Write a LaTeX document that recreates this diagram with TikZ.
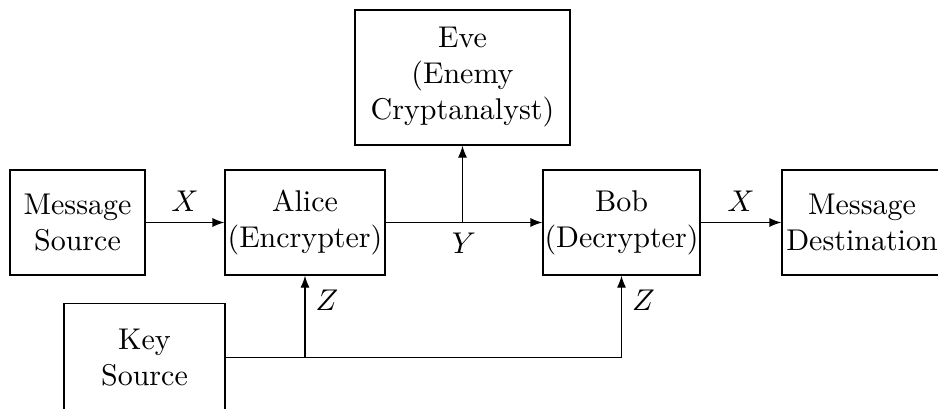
\documentclass[tikz,border=0pt]{standalone}
\usetikzlibrary{arrows.meta}

\begin{document}
\begin{tikzpicture}[x=0.3333pt, y=-0.3333pt,
    block/.style={draw, align=center, minimum height=35pt, inner sep=0pt},
    link/.style={-{Latex[length=4pt,width=3pt]}}]
\useasboundingbox (0,0) rectangle (938,409);

% Boxes
\node[block, minimum width=45pt] (src) at (77.5, 222.5) {Message\\Source};
\node[block, minimum width=53.3pt] (alice) at (305, 222.5) {Alice\\(Encrypter)};
\node[block, minimum width=71.7pt, minimum height=45pt] (eve) at (462.5, 77.5) {Eve\\(Enemy\\Cryptanalyst)};
\node[block, minimum width=52.3pt] (bob) at (621.5, 222.5) {Bob\\(Decrypter)};
\node[block, minimum width=53.3pt] (dst) at (862, 222.5) {Message\\Destination};
\node[block, minimum width=53.7pt, minimum height=36pt] (key) at (144.5, 357.5) {Key\\Source};

% Message path
\draw[link] (src) -- node[above] {$X$} (alice);
\draw[link] (alice) -- node[below] {$Y$} (bob);
\draw[link] (bob) -- node[above] {$X$} (dst);
\draw[link] (eve.south |- alice.east) -- (eve.south);

% Key distribution
\coordinate (ka) at (alice.south |- key.east);
\coordinate (kb) at (bob.south |- key.east);
\draw (key.east) -- (kb);
\draw[link] (ka) -- node[right, pos=0.7] {$Z$} (alice.south);
\draw[link] (kb) -- node[right, pos=0.7] {$Z$} (bob.south);
\end{tikzpicture}
\end{document}
